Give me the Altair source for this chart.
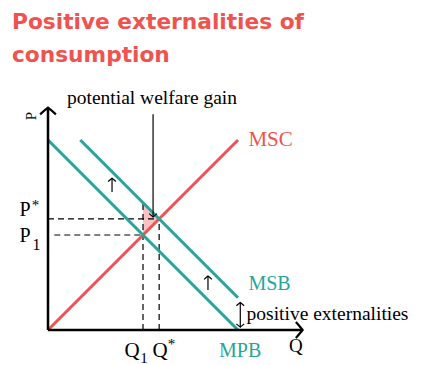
import altair as alt
import pandas as pd

RED = "#ef5350"
TEAL = "#26a69a"

# ---- economic curves (Q on x, P on y), straight lines given by endpoints
curve_names = ["MSC", "MSB", "MPB"]
curve_q0 = [0.0, 1.7, 0.0]
curve_p0 = [0.0, 10.0, 10.0]
curve_q1 = [10.0, 10.0, 10.0]
curve_p1 = [10.0, 1.7, 0.0]
curve_colors = [RED, TEAL, TEAL]

# equilibria
q_market, p_market = 5.0, 5.0        # Q1, P1 (MPB = MSC)
q_opt, p_opt = 5.85, 5.85            # Q*, P* (MSB = MSC)
msb_at_q_market = 6.7

# axis extents
axis_q_max = 13.4
axis_p_max = 11.7

# dashed guide lines
guide_x = [0.0, 0.33, q_market, q_opt]
guide_y = [p_opt, p_market, 0.0, 0.0]
guide_x2 = [q_opt, q_market, q_market, q_opt]
guide_y2 = [p_opt, p_market, msb_at_q_market, p_opt]

# welfare-gain triangle (between MSB and MSC from Q1 to Q*)
tri_q = [q_market, q_opt]
tri_top = [msb_at_q_market, p_opt]
tri_bottom = [p_market, p_opt]

# thin arrows: x, from, to
arrow_x = [5.53, 3.37, 8.42, 10.12]
arrow_from = [11.35, 7.26, 2.1, 0.15]
arrow_to = [5.95, 7.99, 2.84, 1.45]
arrow_both = [False, False, False, True]

# text labels (left aligned, alphabetic baseline)
label_text = ["MSC", "MSB", "MPB", "positive externalities", "Q",
              "Q", "Q", "P", "P", "potential welfare gain",
              "1", "*", "1", "*"]
label_x = [10.55, 10.55, 9.0, 10.45, 12.68,
           4.02, 5.5, -1.5, -1.5, 1.0,
           -0.82, -0.85, 4.85, 6.3]
label_y = [9.68, 2.1, -1.42, 0.53, -1.16,
           -1.42, -1.42, 6.0, 4.63, 11.89,
           4.21, 6.3, -1.74, -1.0]
label_color = [RED, TEAL, TEAL, "black", "black",
               "black", "black", "black", "black", "black",
               "black", "black", "black", "black"]
label_size = [21, 20, 20, 19.5, 19,
              21, 21, 20, 20, 19.5,
              16, 15, 15, 15]

FONT = "Liberation Serif"
PX = 19.0  # pixels per data unit
W, H = 420, 282
x_dom = [-40 / PX, -40 / PX + W / PX]
y_dom = [-27 / PX, -27 / PX + H / PX]
xs = alt.Scale(domain=x_dom, nice=False, zero=False)
ys = alt.Scale(domain=y_dom, nice=False, zero=False)

CHEVRON = "M -1 0.85 Q -0.45 0.35 0 0 Q 0.45 0.35 1 0.85"

# curves
rows = []
for n, a, b, c, d, col in zip(curve_names, curve_q0, curve_p0, curve_q1, curve_p1, curve_colors):
    rows.append(dict(curve=n, q=a, p=b, color=col, o=0))
    rows.append(dict(curve=n, q=c, p=d, color=col, o=1))
curves_df = pd.DataFrame(rows)

curves = alt.Chart(curves_df).mark_line(strokeWidth=3, clip=False).encode(
    x=alt.X("q:Q", scale=xs, axis=None),
    y=alt.Y("p:Q", scale=ys, axis=None),
    detail="curve:N",
    order="o:Q",
    color=alt.Color("color:N", scale=None),
)

tri_df = pd.DataFrame(dict(q=tri_q, top=tri_top, bottom=tri_bottom))
tri = alt.Chart(tri_df).mark_area(color="#f8c2c4", opacity=1).encode(
    x=alt.X("q:Q", scale=xs, axis=None),
    y=alt.Y("top:Q", scale=ys, axis=None),
    y2="bottom:Q",
)

guides_df = pd.DataFrame(dict(x=guide_x, y=guide_y, x2=guide_x2, y2=guide_y2))
guides = alt.Chart(guides_df).mark_rule(color="black", strokeWidth=1.2, strokeDash=[6, 4]).encode(
    x=alt.X("x:Q", scale=xs, axis=None),
    y=alt.Y("y:Q", scale=ys, axis=None),
    x2="x2:Q",
    y2="y2:Q",
)

# axes
axes_df = pd.DataFrame(dict(x=[0.0, 0.0], y=[0.0, 0.0], x2=[axis_q_max, 0.0], y2=[0.0, axis_p_max]))
axes = alt.Chart(axes_df).mark_rule(color="black", strokeWidth=2.5).encode(
    x=alt.X("x:Q", scale=xs, axis=None),
    y=alt.Y("y:Q", scale=ys, axis=None),
    x2="x2:Q",
    y2="y2:Q",
)
axis_heads_df = pd.DataFrame(dict(x=[axis_q_max, 0.0], y=[0.0, axis_p_max], angle=[90, 0]))
axis_heads = alt.Chart(axis_heads_df).mark_point(
    shape=CHEVRON, filled=False, color="black", strokeWidth=2.2, size=250, opacity=1
).encode(
    x=alt.X("x:Q", scale=xs, axis=None),
    y=alt.Y("y:Q", scale=ys, axis=None),
    angle=alt.Angle("angle:Q", scale=None),
)

# thin arrows
arrows_df = pd.DataFrame(dict(x=arrow_x, y=arrow_from, y2=arrow_to))
arrows = alt.Chart(arrows_df).mark_rule(color="black", strokeWidth=1.2).encode(
    x=alt.X("x:Q", scale=xs, axis=None),
    y=alt.Y("y:Q", scale=ys, axis=None),
    y2="y2:Q",
)
head_rows = []
for x, a, b, both in zip(arrow_x, arrow_from, arrow_to, arrow_both):
    head_rows.append(dict(x=x, y=b, angle=0 if b > a else 180))
    if both:
        head_rows.append(dict(x=x, y=a, angle=180 if b > a else 0))
heads = alt.Chart(pd.DataFrame(head_rows)).mark_point(
    shape=CHEVRON, filled=False, color="black", strokeWidth=1.2, size=60, opacity=1
).encode(
    x=alt.X("x:Q", scale=xs, axis=None),
    y=alt.Y("y:Q", scale=ys, axis=None),
    angle=alt.Angle("angle:Q", scale=None),
)

labels_df = pd.DataFrame(dict(text=label_text, x=label_x, y=label_y, color=label_color, size=label_size))
labels = alt.Chart(labels_df).mark_text(
    align="left", baseline="alphabetic", font=FONT
).encode(
    x=alt.X("x:Q", scale=xs, axis=None),
    y=alt.Y("y:Q", scale=ys, axis=None),
    text="text:N",
    color=alt.Color("color:N", scale=None),
    size=alt.Size("size:Q", scale=None),
)

p_axis_df = pd.DataFrame(dict(text=["P"], x=[-0.89], y=[11.26]))
p_axis = alt.Chart(p_axis_df).mark_text(
    align="center", baseline="middle", font=FONT, fontSize=15, angle=270, color="black"
).encode(
    x=alt.X("x:Q", scale=xs, axis=None),
    y=alt.Y("y:Q", scale=ys, axis=None),
    text="text:N",
)

chart = alt.layer(
    tri, guides, curves, axes, axis_heads, arrows, heads, labels, p_axis
).properties(
    width=W,
    height=H,
    autosize=alt.AutoSizeParams(type="none"),
    padding={"left": 0, "top": 67, "right": 0, "bottom": 8},
    title=alt.Title(
        ["Positive externalities of", "consumption"],
        anchor="start",
        font="DejaVu Sans",
        fontWeight="bold",
        fontSize=21.7,
        color=RED,
        lineHeight=33,
        dx=4,
        offset=8,
    ),
).configure_view(stroke=None)

chart.save("out.html", embed_options={"renderer": "svg", "actions": False})
